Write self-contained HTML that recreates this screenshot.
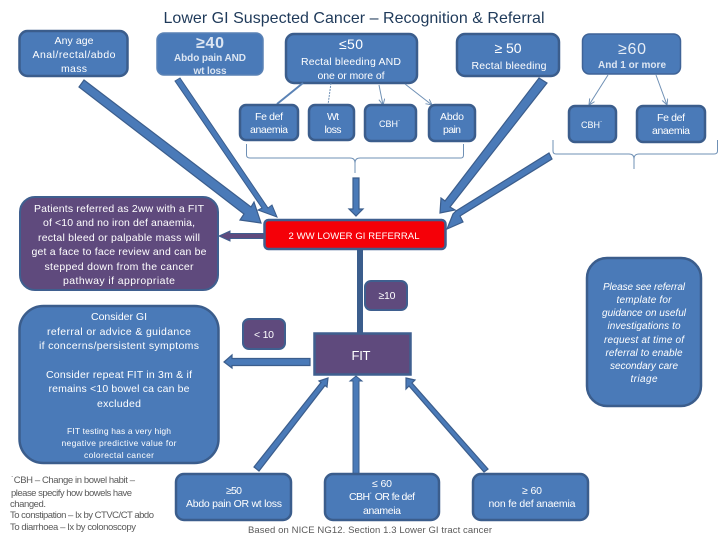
<!DOCTYPE html>
<html><head><meta charset="utf-8"><style>
html,body{margin:0;padding:0;background:#fff}
svg{display:block}
text{font-family:"Liberation Sans","DejaVu Sans",sans-serif;fill:#fff;text-anchor:middle;font-size:10.5px}
.d{fill:#5a5a5a;text-anchor:start;font-size:9.5px}
.b{fill:none;stroke:#6f90b5;stroke-width:1}
.blue{fill:#4a7ab8;stroke:#3b5d8c;stroke-width:2.5}
.pur{fill:#5f4a7d;stroke:#3f5f8f;stroke-width:2}
.a{fill:#4a7ab8;stroke:#3b5d8c;stroke-width:1.2;stroke-linejoin:miter}
</style></head><body>
<svg width="720" height="540" viewBox="0 0 720 540" xmlns="http://www.w3.org/2000/svg">
<defs>
<marker id="m" markerWidth="8" markerHeight="8" refX="6" refY="3" orient="auto"><path d="M0,0L6,3L0,6" fill="none" stroke="#6f90b5"/></marker>
</defs>
<text x="354" y="23" textLength="381" style="font-size:16px;fill:#1f3a5a">Lower GI Suspected Cancer – Recognition &amp; Referral</text>

<!-- top boxes -->
<rect class="blue" x="19.5" y="31" width="108" height="45" rx="8"/>
<text x="74" y="44" textLength="39">Any age</text>
<text x="74" y="58" textLength="83">Anal/rectal/abdo</text>
<text x="74" y="72" textLength="26">mass</text>

<rect x="157" y="33" width="106" height="42" rx="7" fill="#4a7ab8" stroke="#5a82b5" stroke-width="1.5"/>
<text x="210" y="48" textLength="28" style="font-size:16px;font-weight:bold;fill:#dde6f2">≥40</text>
<text x="210" y="61" textLength="72" style="font-size:10px;font-weight:bold;fill:#dde6f2">Abdo pain AND</text>
<text x="210" y="74" textLength="33" style="font-size:10px;font-weight:bold;fill:#dde6f2">wt loss</text>

<rect class="blue" x="286" y="34" width="131" height="49" rx="8"/>
<text x="351" y="49" textLength="24" style="font-size:14px">≤50</text>
<text x="351" y="65" textLength="100">Rectal bleeding AND</text>
<text x="351" y="79" textLength="67">one or more of</text>

<rect class="blue" x="457" y="34" width="102" height="42" rx="8"/>
<text x="508" y="53" textLength="27" style="font-size:14px">≥ 50</text>
<text x="509" y="69" textLength="75">Rectal bleeding</text>

<rect x="582.5" y="34" width="98" height="40" rx="7" fill="#4a7ab8" stroke="#3f6397" stroke-width="1.5"/>
<text x="632" y="54" textLength="28" style="font-size:16px;fill:#e6edf6">≥60</text>
<text x="632" y="68" textLength="68" style="font-size:10px;font-weight:bold;fill:#dde6f2">And 1 or more</text>

<!-- connectors -->
<line x1="303" y1="83" x2="277" y2="104" stroke="#5a82b5" stroke-width="2"/>
<line x1="331" y1="83" x2="328" y2="105" stroke="#6f90b5" stroke-dasharray="2 1"/>
<line x1="379" y1="85" x2="383" y2="105" stroke="#6f90b5" marker-end="url(#m)"/>
<line x1="405" y1="84" x2="432" y2="105" stroke="#6f90b5" marker-end="url(#m)"/>
<line x1="608" y1="75" x2="589" y2="105" stroke="#6f90b5" marker-end="url(#m)"/>
<line x1="656" y1="75" x2="667" y2="105" stroke="#6f90b5" marker-end="url(#m)"/>

<!-- symptom boxes -->
<rect class="blue" x="240" y="105" width="58" height="35" rx="6"/>
<text x="269" y="120" textLength="28">Fe def</text>
<text x="269" y="133" textLength="38">anaemia</text>
<rect class="blue" x="309" y="105" width="45" height="35" rx="6"/>
<text x="333" y="120" textLength="12">Wt</text>
<text x="333" y="133" textLength="17">loss</text>
<rect class="blue" x="365" y="105" width="51" height="36" rx="6"/>
<text x="390" y="127" textLength="22" style="font-size:9px">CBH˙</text>
<rect class="blue" x="429" y="105" width="46" height="36" rx="6"/>
<text x="452" y="120" textLength="24">Abdo</text>
<text x="452" y="133" textLength="18">pain</text>
<rect class="blue" x="569" y="106" width="47" height="36" rx="6"/>
<text x="592" y="128" textLength="22" style="font-size:9px">CBH˙</text>
<rect class="blue" x="637" y="106" width="68" height="36" rx="6"/>
<text x="671" y="121" textLength="28">Fe def</text>
<text x="671" y="134" textLength="38">anaemia</text>

<!-- brackets -->
<path class="b" d="M246.5,144V155Q246.5,158 250,158H350Q355,158 355,163V173M355,163Q355,158 360,158H461Q463.5,158 463.5,155V144"/>
<path class="b" d="M553,140V151Q553,154 556,154H629Q634,154 634,159V169M634,159Q634,154 639,154H714Q717.5,154 717.5,151V140"/>

<!-- arrows to red -->
<path class="a" d="M79,87L84,80L251,207L254,202L261,223L240,220L244,214Z"/>
<path class="a" d="M175,81L180,78L268,208L272,205L277,217L258,210L262,208Z" style="stroke-width:1"/>
<path class="a" d="M353,178H359V209H363L356,216L349,209H353Z"/>
<path class="a" d="M539,78L547,83L450,207L455,210L440,213L441,198L445,201Z"/>
<path class="a" d="M549,153L552,159L460,216L463,222L447,229L453,214L456,211Z"/>

<!-- red -->
<rect x="264.5" y="220" width="181" height="29" rx="4" fill="#f50008" stroke="#3f5f8f" stroke-width="2.5"/>
<text x="354" y="239" textLength="131" style="font-size:9.5px">2 WW LOWER GI REFERRAL</text>

<!-- purple note -->
<path d="M264,233.5H230V231L219,236L230,241V238.5H264Z" fill="#5f4a7d" stroke="#3f5f8f"/>
<rect class="pur" x="20" y="197" width="198" height="93" rx="15" stroke-width="1"/>
<text x="119" y="212" textLength="170">Patients referred as 2ww with a FIT</text>
<text x="119" y="226" textLength="152">of &lt;10 and no iron def anaemia,</text>
<text x="119" y="241" textLength="162">rectal bleed or palpable mass will</text>
<text x="119" y="255" textLength="175">get a face to face review and can be</text>
<text x="119" y="270" textLength="149">stepped down from the cancer</text>
<text x="119" y="284" textLength="112">pathway if appropriate</text>

<!-- big consider -->
<rect class="blue" x="19.5" y="306" width="199" height="157" rx="24"/>
<text x="119" y="320" textLength="56">Consider GI</text>
<text x="119" y="335" textLength="144">referral or advice &amp; guidance</text>
<text x="119" y="349" textLength="160">if concerns/persistent symptoms</text>
<text x="119" y="378" textLength="146">Consider repeat FIT in 3m &amp; if</text>
<text x="119" y="392" textLength="141">remains &lt;10 bowel ca can be</text>
<text x="119" y="407" textLength="44">excluded</text>
<text x="119" y="434" textLength="104" style="font-size:8.5px">FIT testing has a very high</text>
<text x="119" y="446" textLength="115" style="font-size:8.5px">negative predictive value for</text>
<text x="119" y="458" textLength="70" style="font-size:8.5px">colorectal cancer</text>

<!-- purple labels -->
<rect class="pur" x="243" y="319" width="42" height="30" rx="6"/>
<text x="264" y="338" textLength="20">&lt; 10</text>
<rect class="pur" x="365" y="281" width="42" height="29" rx="6"/>
<text x="387" y="299" textLength="17">≥10</text>

<!-- red to FIT -->
<rect x="357" y="249" width="6" height="86" fill="#3b5d8c"/>
<rect x="314.5" y="333.5" width="96" height="41" fill="#5f4a7d" stroke="#3f5f8f" stroke-width="2.5"/>
<text x="361" y="360" textLength="19" style="font-size:13px">FIT</text>

<!-- FIT to <10 -->
<path class="a" d="M310,358.5H232V355L224,362L232,368V365.5H310Z"/>

<!-- up arrows -->
<path class="a" d="M254,467L321,382.5L319,381L328,378L327,387L325,385.5L259,471Z"/>
<path class="a" d="M353,474V381H350L356,376L362,381H359V474Z" style="stroke-width:1"/>
<path class="a" d="M406,378L415,380L412,383L488,469L484,472L409,386L406,389Z"/>

<!-- bottom boxes -->
<rect class="blue" x="176" y="474" width="115" height="46" rx="8"/>
<text x="234" y="494" textLength="16">≥50</text>
<text x="234" y="507" textLength="96">Abdo pain OR wt loss</text>
<rect class="blue" x="325" y="474" width="114" height="46" rx="8"/>
<text x="382" y="487" textLength="20">≤ 60</text>
<text x="382" y="500" textLength="66">CBH˙ OR fe def</text>
<text x="382" y="514" textLength="38">anameia</text>
<rect class="blue" x="473" y="474" width="115" height="46" rx="8"/>
<text x="532" y="494" textLength="20">≥ 60</text>
<text x="532" y="507" textLength="87">non fe def anaemia</text>

<!-- right note -->
<rect class="blue" x="587" y="258" width="114" height="148" rx="20"/>
<text x="644" y="290" textLength="82" style="font-style:italic;font-size:10px">Please see referral</text>
<text x="644" y="303" textLength="55" style="font-style:italic;font-size:10px">template for</text>
<text x="644" y="316" textLength="84" style="font-style:italic;font-size:10px">guidance on useful</text>
<text x="644" y="329" textLength="73" style="font-style:italic;font-size:10px">investigations to</text>
<text x="644" y="343" textLength="80" style="font-style:italic;font-size:10px">request at time of</text>
<text x="644" y="356" textLength="77" style="font-style:italic;font-size:10px">referral to enable</text>
<text x="644" y="369" textLength="68" style="font-style:italic;font-size:10px">secondary care</text>
<text x="644" y="382" textLength="27" style="font-style:italic;font-size:10px">triage</text>

<!-- footnotes -->
<text class="d" x="11" y="483" textLength="124">˙CBH – Change in bowel habit –</text>
<text class="d" x="11" y="496" textLength="121">please specify how bowels have</text>
<text class="d" x="10" y="507" textLength="36">changed.</text>
<text class="d" x="10" y="518" textLength="144">To constipation – Ix by CTVC/CT abdo</text>
<text class="d" x="10" y="530" textLength="126">To diarrhoea – Ix by colonoscopy</text>
<text class="d" x="248" y="533" textLength="244">Based on NICE NG12. Section 1.3 Lower GI tract cancer</text>
</svg>
</body></html>
